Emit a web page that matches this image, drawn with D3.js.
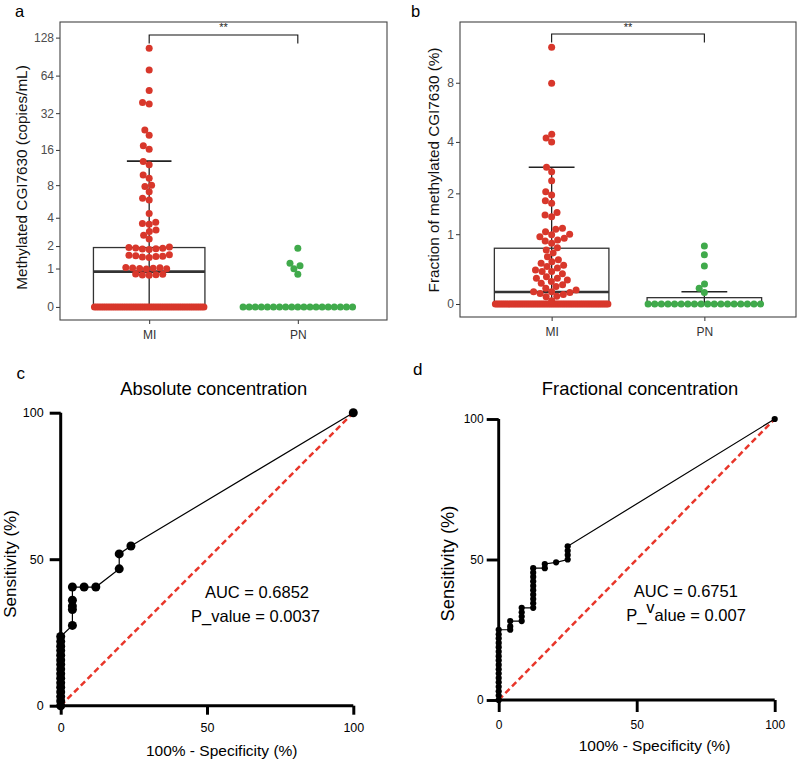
<!DOCTYPE html>
<html><head><meta charset="utf-8">
<script src="https://cdn.jsdelivr.net/npm/d3@7"></script>
<style>body{margin:0;background:#fff}svg{display:block}text{font-family:"Liberation Sans",Arial,Helvetica,sans-serif}</style>
</head><body><svg id="chart" width="797" height="762"></svg>
<script>
// ---------------- DATA ----------------
const groups = ["MI", "PN"];
const yTicksA = [0, 1, 2, 4, 8, 16, 32, 64, 128];
const yTicksB = [0, 1, 2, 4, 8];
const rocTicks = [0, 50, 100];

// Panel a: methylated CGI7630 (copies/mL)
const aMI = [105.7, 71, 48.6, 39, 38, 23.4, 21.2, 17.3, 16.2, 12.8, 12, 9.8, 9.2, 8.0, 7.8, 7.0, 6.1, 5.9, 4.4,
  3.6, 3.5, 3.45, 3.0, 2.9, 2.65, 2.4,
  1.95, 1.92, 1.9, 1.88, 1.86, 1.84, 1.82, 1.56, 1.54, 1.52, 1.5, 1.48, 1.46, 1.44,
  1.04, 1.03, 1.02, 1.01, 1.0, 0.99, 0.98, 0.81, 0.8, 0.79, 0.78, 0.77,
  0, 0, 0, 0, 0, 0, 0, 0, 0, 0, 0, 0, 0, 0, 0, 0, 0, 0, 0, 0, 0, 0, 0, 0, 0,
  0, 0, 0, 0, 0, 0, 0, 0, 0, 0, 0, 0, 0, 0, 0, 0, 0, 0, 0, 0, 0, 0, 0, 0, 0];
const aPN = [1.88, 1.2, 1.1, 0.99, 0.8,
  0, 0, 0, 0, 0, 0, 0, 0, 0, 0, 0, 0, 0, 0, 0, 0, 0, 0, 0];
// Panel b: fraction of methylated CGI7630 (%)
const bMI = [11.8, 7.95, 4.4, 4.2, 4.0, 2.89, 2.72, 2.40, 2.05, 1.95, 1.79, 1.72, 1.48, 1.42, 1.38,
  1.12, 1.1, 1.05, 1.0, 0.99, 0.95, 0.92, 0.89, 0.87, 0.83, 0.75, 0.71, 0.66, 0.6, 0.55, 0.52, 0.5,
  0.47, 0.45, 0.43, 0.4, 0.38, 0.38, 0.35, 0.31, 0.29, 0.29, 0.27, 0.25, 0.23, 0.21, 0.19, 0.17,
  0.15, 0.13, 0.13, 0.12, 0.11, 0.10, 0.08, 0.075, 0.033,
  0, 0, 0, 0, 0, 0, 0, 0, 0, 0, 0, 0, 0, 0, 0, 0, 0, 0, 0, 0, 0, 0, 0, 0, 0, 0, 0, 0, 0, 0, 0, 0,
  0, 0, 0, 0, 0, 0, 0, 0, 0, 0, 0, 0, 0, 0, 0, 0, 0, 0, 0, 0, 0, 0, 0, 0, 0, 0, 0, 0, 0, 0, 0];
const bPN = [0.78, 0.63, 0.46, 0.22, 0.17, 0.12,
  0, 0, 0, 0, 0, 0, 0, 0, 0, 0, 0, 0, 0, 0, 0, 0, 0, 0];

// box / errorbar statistics
const boxA = [
  { g: "MI", q1: 0, med: 0.89, q3: 1.92, lo: 0, hi: 12.9 },
  { g: "PN", q1: 0, med: 0, q3: 0, lo: 0, hi: 0 }
];
const boxB = [
  { g: "MI", q1: 0, med: 0.127, q3: 0.74, lo: 0, hi: 2.89 },
  { g: "PN", q1: 0, med: 0, q3: 0.065, lo: 0, hi: 0.13 }
];

// ROC curves: [100% - specificity, sensitivity]
const rocC = [[0, 0], [0, 1.6], [0, 3.1], [0, 4.7], [0, 6.3], [0, 7.8], [0, 9.4], [0, 10.9], [0, 12.5], [0, 14.1],
  [0, 15.6], [0, 17.2], [0, 18.8], [0, 20.3], [0, 21.9], [0, 23.6],
  [4, 27.4], [4, 32.8], [4, 34.0], [4, 36.0], [4, 40.5], [8, 40.5], [12, 40.5],
  [20, 46.7], [20, 51.8], [24, 54.5], [100, 100]];
const rocD = [[0, 0], [0, 1.6], [0, 3.1], [0, 4.7], [0, 6.3], [0, 7.8], [0, 9.4], [0, 10.9], [0, 12.5], [0, 14.1],
  [0, 15.6], [0, 17.2], [0, 18.8], [0, 20.3], [0, 21.9], [0, 23.4], [0, 25.0],
  [4.17, 25.0], [4.17, 26.2], [4.17, 28.1], [8.33, 28.1], [8.33, 29.7], [8.33, 31.2], [8.33, 32.8],
  [12.5, 32.8], [12.5, 34.4], [12.5, 35.9], [12.5, 37.5], [12.5, 39.1], [12.5, 40.6], [12.5, 42.2],
  [12.5, 43.8], [12.5, 45.3], [12.5, 46.9], [16.7, 46.9], [16.7, 48.4], [20.8, 49.0],
  [25, 50.0], [25, 51.6], [25, 53.1], [25, 54.7], [100, 100]];

// ---------------- DRAW ----------------
const svg = d3.select("#chart");
const RED = "#D8372B", GREEN = "#40AA4B";

function swarmPositions(vals, y, cx, d, tieW) {
  const out = [];
  const zeros = vals.filter(v => v === 0);
  const nz = vals.filter(v => v !== 0).sort((a, b) => a - b);
  const n = zeros.length;
  if (n) {
    const sp = n > 1 ? Math.min(d, tieW / (n - 1)) : 0;
    zeros.forEach((v, i) => out.push({ v, x: cx + i * sp - (n - 1) * sp / 2, y: y(0) }));
  }
  const placed = [];
  nz.forEach(v => {
    const py = y(v);
    const ints = [];
    placed.forEach(q => {
      const dy = Math.abs(q.y - py);
      if (dy < d) { const h = Math.sqrt(d * d - dy * dy); ints.push([q.dx - h, q.dx + h]); }
    });
    const cands = [0];
    ints.forEach(iv => { cands.push(iv[0], iv[1]); });
    cands.sort((a, b) => Math.abs(a) - Math.abs(b));
    let best = 0;
    for (const c of cands) {
      if (!ints.some(iv => c > iv[0] + 1e-6 && c < iv[1] - 1e-6)) { best = c; break; }
    }
    placed.push({ dx: best, y: py });
    out.push({ v, x: cx + best, y: py });
  });
  return out;
}

function dotPanel(o) {
  const g = svg.append("g");
  const x = d3.scalePoint().domain(groups).range([o.x0, o.x1]).padding(0.6);
  const y = d3.scaleSymlog().constant(1).domain([o.vlo, o.vhi]).range([o.y1, o.y0]);
  const step = x.step(), bw = step * 0.75, cw = step * 0.3;
  o.boxes.forEach(b => {
    const cx = x(b.g);
    const e = g.append("g").attr("stroke", "#222").attr("stroke-width", 1.3).attr("fill", "none");
    e.append("line").attr("x1", cx).attr("x2", cx).attr("y1", y(b.lo)).attr("y2", y(b.hi));
    [b.lo, b.hi].forEach(v => e.append("line").attr("x1", cx - cw / 2).attr("x2", cx + cw / 2).attr("y1", y(v)).attr("y2", y(v)).attr("stroke-width", 1.6));
    if (b.q3 > b.q1) {
      g.append("rect").attr("x", cx - bw / 2).attr("width", bw).attr("y", y(b.q3)).attr("height", y(b.q1) - y(b.q3))
        .attr("fill", "none").attr("stroke", "#333").attr("stroke-width", 1.3);
      g.append("line").attr("x1", cx - bw / 2).attr("x2", cx + bw / 2).attr("y1", y(b.med)).attr("y2", y(b.med))
        .attr("stroke", "#333").attr("stroke-width", 2.6);
    }
  });
  o.series.forEach(s => {
    const pts = swarmPositions(s.vals, y, x(s.g), 6.8, bw - 2);
    g.append("g").selectAll("circle").data(pts).join("circle")
      .attr("cx", d => d.x).attr("cy", d => d.y).attr("r", 3.5).attr("fill", s.color);
  });
  const ya = g.append("g").attr("transform", `translate(${o.x0},0)`)
    .call(d3.axisLeft(y).tickValues(o.ticks).tickFormat(d3.format("d")).tickSize(4).tickPadding(2));
  ya.select(".domain").remove();
  ya.selectAll(".tick line").attr("stroke", "#333");
  ya.selectAll(".tick text").attr("fill", "#4D4D4D").style("font-size", "12px");
  const xa = g.append("g").attr("transform", `translate(0,${o.y1})`)
    .call(d3.axisBottom(x).tickSize(4).tickPadding(6));
  xa.select(".domain").remove();
  xa.selectAll(".tick line").attr("stroke", "#333");
  xa.selectAll(".tick text").attr("fill", "#333").style("font-size", "12px");
  const by = o.sigY, xm = x("MI"), xp = x("PN");
  g.append("path").attr("d", `M${xm},${by + 8.5}V${by}H${xp}V${by + 8.5}`).attr("fill", "none").attr("stroke", "#111").attr("stroke-width", 1.1);
  g.append("text").attr("x", (xm + xp) / 2).attr("y", 30.5).attr("text-anchor", "middle").style("font-size", "11px").attr("fill", "#222").text("**");
  g.append("rect").attr("x", o.x0).attr("y", o.y0).attr("width", o.x1 - o.x0).attr("height", o.y1 - o.y0)
    .attr("fill", "none").attr("stroke", "#444").attr("stroke-width", 1.1);
  g.append("text").attr("transform", `translate(${o.ylabX},${o.ylabY}) rotate(-90)`).attr("text-anchor", "middle")
    .style("font-size", "15.3px").attr("fill", "#111").text(o.ylabel);
  g.append("text").attr("x", o.lx).attr("y", 17).style("font-size", "16.5px").attr("fill", "#000").text(o.letter);
}

dotPanel({
  x0: 60, x1: 387, y0: 22, y1: 320, vlo: -0.266, vhi: 170, ticks: yTicksA, boxes: boxA,
  series: [{ g: "MI", vals: aMI, color: RED }, { g: "PN", vals: aPN, color: GREEN }],
  sigY: 35, ylabel: "Methylated CGI7630 (copies/mL)", ylabX: 27, ylabY: 177.5, letter: "a", lx: 15
});
dotPanel({
  x0: 460, x1: 796, y0: 22, y1: 317, vlo: -0.1377, vhi: 15.45, ticks: yTicksB, boxes: boxB,
  series: [{ g: "MI", vals: bMI, color: RED }, { g: "PN", vals: bPN, color: GREEN }],
  sigY: 34, ylabel: "Fraction of methylated CGI7630 (%)", ylabX: 439, ylabY: 170, letter: "b", lx: 411
});

function rocPanel(o) {
  const g = svg.append("g");
  const x = d3.scaleLinear().domain([0, 100]).range([o.x0, o.x1]);
  const y = d3.scaleLinear().domain([0, 100]).range([o.y0, o.y1]);
  g.append("line").attr("x1", x(0)).attr("y1", y(0)).attr("x2", x(100)).attr("y2", y(100))
    .attr("stroke", "#E8362A").attr("stroke-width", 2.5).attr("stroke-dasharray", "6,3.5");
  const ya = g.append("g").attr("transform", `translate(${x(0)},0)`)
    .call(d3.axisLeft(y).tickValues(rocTicks).tickSize(o.ytick).tickSizeOuter(0).tickPadding(o.ypad));
  const xa = g.append("g").attr("transform", `translate(0,${y(0)})`)
    .call(d3.axisBottom(x).tickValues(rocTicks).tickSize(o.xtick).tickSizeOuter(0).tickPadding(o.xpad));
  [ya, xa].forEach(a => {
    a.select(".domain").remove();
    a.selectAll(".tick line").attr("stroke", "#000").attr("stroke-width", o.aw);
    a.selectAll("text").attr("fill", "#000").style("font-size", o.tfs + "px");
  });
  g.append("path").datum(o.data).attr("d", d3.line().x(d => x(d[0])).y(d => y(d[1])))
    .attr("fill", "none").attr("stroke", "#000").attr("stroke-width", 1.2);
  g.append("g").selectAll("circle").data(o.data).join("circle")
    .attr("cx", d => x(d[0])).attr("cy", d => y(d[1])).attr("r", o.r).attr("fill", "#000");
  g.append("text").attr("x", o.tx).attr("y", 395).attr("text-anchor", "middle").style("font-size", "18.4px").text(o.title);
  g.append("text").attr("x", o.xlx).attr("y", o.xly).attr("text-anchor", "middle").style("font-size", "15.5px").text("100% - Specificity (%)");
  g.append("text").attr("transform", `translate(${o.ylx},${o.yly}) rotate(-90)`).attr("text-anchor", "middle")
    .style("font-size", o.yfs + "px").text("Sensitivity (%)");
  g.append("text").attr("x", o.ax).attr("y", o.ay).attr("text-anchor", "middle").style("font-size", "16.5px").text(o.auc);
  const p = g.append("text").attr("x", o.px).attr("y", o.py).attr("text-anchor", "middle").style("font-size", "16.5px");
  o.pParts.forEach(pp => p.append("tspan").attr("dy", pp.dy).text(pp.t));
  g.append("text").attr("x", o.lx).attr("y", o.ly).style("font-size", "17px").text(o.letter);
  // L-shaped axis frame drawn last, as one path
  g.append("path").attr("d", `M${x(0)},${y(100)}V${y(0)}H${x(100)}`)
    .attr("fill", "none").attr("stroke", "#000").attr("stroke-width", o.aw).attr("stroke-linejoin", "miter");
}

rocPanel({
  x0: 60.7, x1: 353.3, y0: 705.7, y1: 412.7, data: rocC, r: 4.5, aw: 3, ytick: 11, ypad: 6, xtick: 9, xpad: 8, tfs: 12.5,
  title: "Absolute concentration", tx: 213.7, xlx: 221.7, xly: 756, ylx: 15.5, yly: 564, yfs: 17,
  auc: "AUC = 0.6852", ax: 257, ay: 598.3, px: 255.5, py: 621.7,
  pParts: [{ t: "P_value = 0.0037", dy: 0 }], letter: "c", lx: 16.5, ly: 379
});
rocPanel({
  x0: 498.7, x1: 774.7, y0: 700, y1: 419, data: rocD, r: 3.1, aw: 2.9, ytick: 12, ypad: 3, xtick: 12, xpad: 8, tfs: 12,
  title: "Fractional concentration", tx: 640, xlx: 654.5, xly: 750.5, ylx: 454, yly: 563.5, yfs: 18.3,
  auc: "AUC = 0.6751", ax: 685.8, ay: 597.3, px: 686, py: 621,
  pParts: [{ t: "P_", dy: 0 }, { t: "v", dy: -8.5 }, { t: "alue = 0.007", dy: 8.5 }], letter: "d", lx: 413, ly: 375
});
</script></body></html>
